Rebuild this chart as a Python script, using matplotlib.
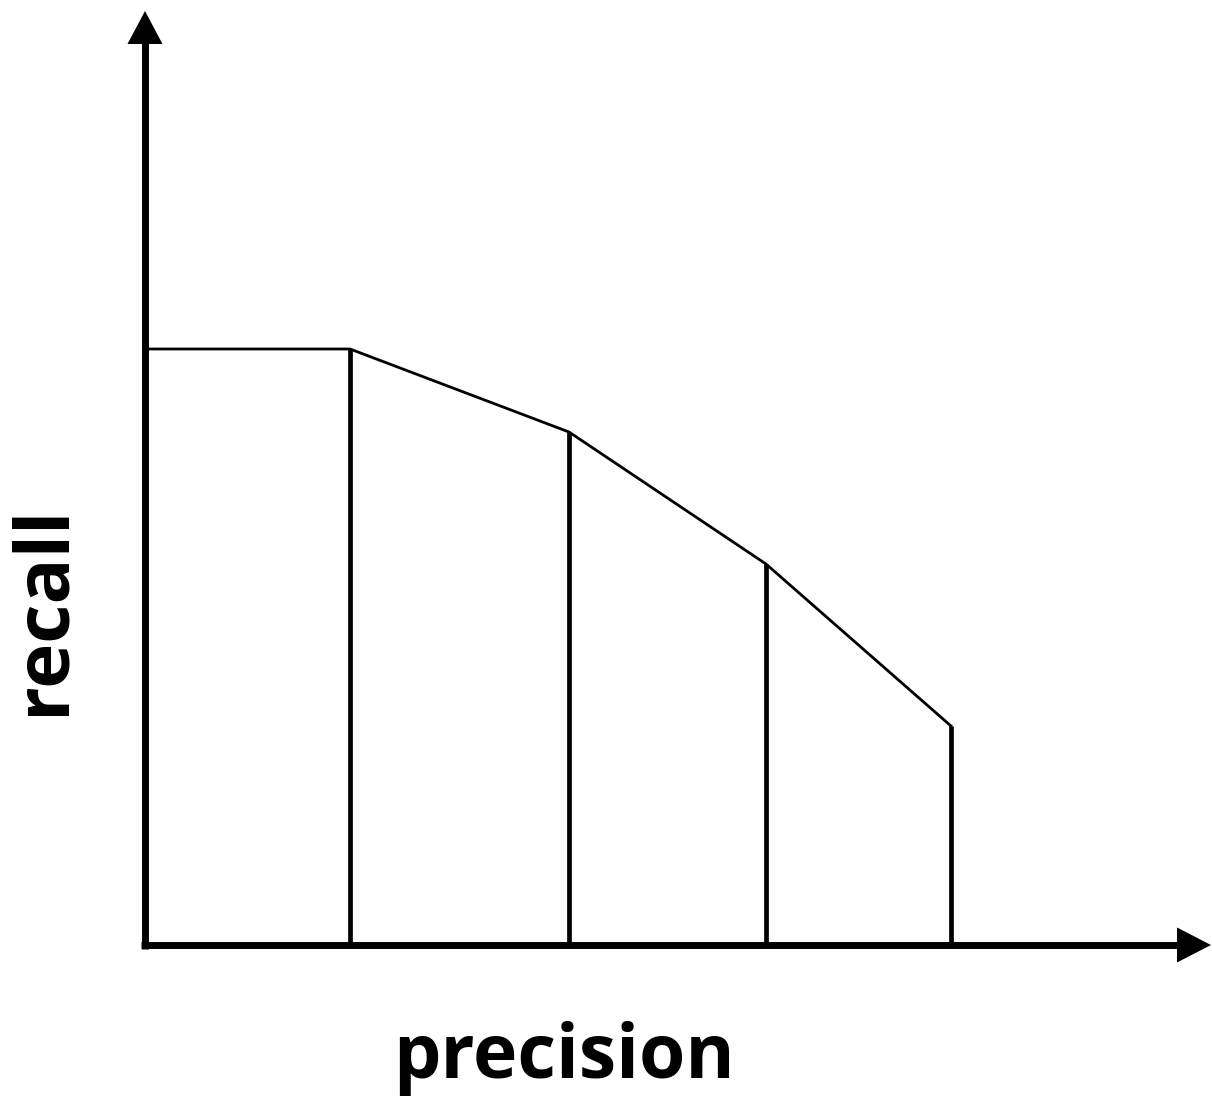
"""Precision-recall step diagram (schematic)"""

import matplotlib

matplotlib.use("Agg")
import matplotlib.pyplot as plt

# 数据: 坐标原点在两轴交点, 单位为像素
precision = [0, 205, 424, 621, 806]
recall = [596, 596, 513, 381, 219]

x_axis_end = 1066
y_axis_end = 934

W, H = 1212, 1097
ORIGIN = (145, 945)

fig = plt.figure(figsize=(W / 100, H / 100), dpi=100)
ax = fig.add_axes([0, 0, 1, 1])
ax.set_xlim(-ORIGIN[0], W - ORIGIN[0])
ax.set_ylim(-(H - ORIGIN[1]), ORIGIN[1])
ax.axis("off")

# 坐标轴 + 箭头
ax.plot([-4, x_axis_end - 30], [0, 0], color="black", lw=5, solid_capstyle="butt")
ax.plot([0, 0], [-4, y_axis_end - 30], color="black", lw=5, solid_capstyle="butt")
ax.arrow(x_axis_end - 34, 0, 34, 0, width=0, head_width=35, head_length=34,
         length_includes_head=True, color="black", lw=0)
ax.arrow(0, y_axis_end - 33, 0, 33, width=0, head_width=35, head_length=33,
         length_includes_head=True, color="black", lw=0)

# 折线
ax.plot(precision, recall, color="black", lw=2, solid_joinstyle="miter")

# 竖线
for px, ry in zip(precision[1:], recall[1:]):
    ax.plot([px, px], [0, ry], color="black", lw=3.4, solid_capstyle="butt")

fnt = dict(family=["Open Sans", "DejaVu Sans"], weight="bold", color="black")
ax.text(564 - ORIGIN[0], ORIGIN[1] - 1078, "precision", fontsize=54,
        ha="center", va="baseline", **fnt)
ax.text(44 - ORIGIN[0], ORIGIN[1] - 610, "recall", fontsize=55,
        ha="center", va="center", rotation=90, **fnt)

fig.savefig("out.png", dpi=100)
